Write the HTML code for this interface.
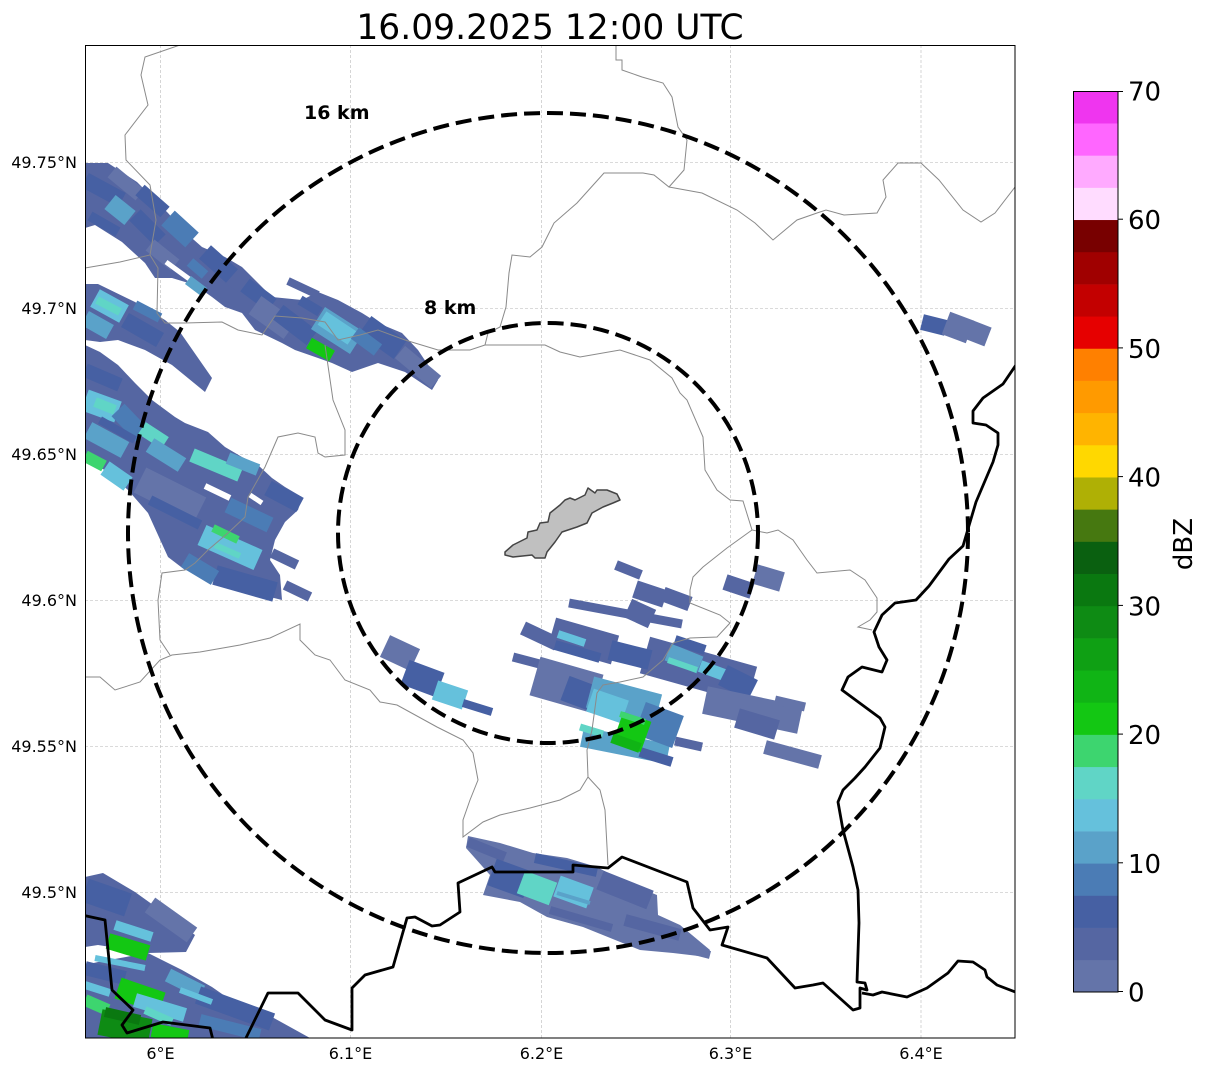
<!DOCTYPE html>
<html><head><meta charset="utf-8"><style>
html,body{margin:0;padding:0;background:#fff;}
svg{display:block;}
text{font-family:"DejaVu Sans","Liberation Sans",sans-serif;}
.f0{fill:#6474a9}.f1{fill:#5566a2}.f2{fill:#4660a3}
.s0{stroke:#6474a9}.s1{stroke:#5566a2}.s2{stroke:#4660a3}.s3{stroke:#4b7cb5}.s4{stroke:#5aa2c9}.s5{stroke:#65c1dc}.s6{stroke:#60d5c6}.s7{stroke:#3dd56f}.s8{stroke:#13c713}.s9{stroke:#10b415}.s11{stroke:#0e8b14}.s12{stroke:#0a7810}
.w{stroke:#fff}
.g{fill:none;stroke:#8a8a8a;stroke-width:1}
.b{fill:none;stroke:#000;stroke-width:2.8;stroke-linejoin:round}
.grid{stroke:#c4c4c4;stroke-width:0.7;stroke-dasharray:3,2}
</style></head><body>
<svg width="1207" height="1073" viewBox="0 0 1207 1073" xmlns="http://www.w3.org/2000/svg">
<defs><clipPath id="cp"><rect x="85" y="45" width="930" height="993"/></clipPath></defs>
<rect width="1207" height="1073" fill="#fff"/>
<text x="550" y="39" font-size="34.5" text-anchor="middle">16.09.2025 12:00 UTC</text>

<g clip-path="url(#cp)">
<!-- gridlines -->
<g class="grid">
<line x1="160.5" y1="45" x2="160.5" y2="1038"/><line x1="350.5" y1="45" x2="350.5" y2="1038"/><line x1="541.5" y1="45" x2="541.5" y2="1038"/><line x1="730.5" y1="45" x2="730.5" y2="1038"/><line x1="921" y1="45" x2="921" y2="1038"/>
<line x1="85" y1="162.3" x2="1015" y2="162.3"/><line x1="85" y1="308.3" x2="1015" y2="308.3"/><line x1="85" y1="454.3" x2="1015" y2="454.3"/><line x1="85" y1="600.3" x2="1015" y2="600.3"/><line x1="85" y1="746.3" x2="1015" y2="746.3"/><line x1="85" y1="892.3" x2="1015" y2="892.3"/>
</g>

<!-- echoes -->
<g stroke-linecap="butt">
<!-- cluster 1 -->
<polygon class="f1" points="85,163 108,163 137,182 168,213 185,232 202,247 225,257 242,267 272,297 302,300 318,292 338,300 362,313 378,323 402,333 418,350 438,380 432,390 405,372 378,363 352,372 332,363 318,358 295,350 282,343 255,330 242,313 225,307 212,297 195,285 172,278 155,278 145,263 122,242 95,225 85,228"/>
<line class="s2" x1="85" y1="180" x2="122" y2="200" stroke-width="16"/>
<line class="s0" x1="112" y1="172" x2="140" y2="195" stroke-width="14"/>
<line class="s4" x1="110" y1="202" x2="130" y2="218" stroke-width="18"/>
<line class="s2" x1="90" y1="216" x2="118" y2="232" stroke-width="10"/>
<line class="s2" x1="140" y1="190" x2="165" y2="212" stroke-width="14"/>
<line class="s3" x1="168" y1="218" x2="192" y2="240" stroke-width="20"/>
<line class="s2" x1="135" y1="215" x2="160" y2="240" stroke-width="16"/>
<line class="s0" x1="150" y1="245" x2="175" y2="265" stroke-width="14"/>
<line class="s2" x1="205" y1="252" x2="232" y2="276" stroke-width="18"/>
<line class="s3" x1="190" y1="262" x2="205" y2="275" stroke-width="10"/>
<line class="w" x1="166" y1="262" x2="192" y2="281" stroke-width="5"/>
<line class="s4" x1="188" y1="280" x2="204" y2="292" stroke-width="10"/>
<line class="s1" x1="215" y1="285" x2="245" y2="305" stroke-width="14"/>
<line class="s2" x1="245" y1="285" x2="272" y2="305" stroke-width="16"/>
<line class="s0" x1="255" y1="305" x2="290" y2="330" stroke-width="22"/>
<line class="s2" x1="278" y1="312" x2="312" y2="338" stroke-width="18"/>
<line class="s1" x1="288" y1="281" x2="318" y2="295" stroke-width="8"/>
<line class="s2" x1="300" y1="300" x2="320" y2="312" stroke-width="10"/>
<line class="s4" x1="318" y1="318" x2="357" y2="343" stroke-width="26"/>
<line class="s5" x1="322" y1="318" x2="352" y2="338" stroke-width="16"/>
<line class="s8" x1="309" y1="343" x2="332" y2="356" stroke-width="12"/>
<line class="s2" x1="365" y1="325" x2="400" y2="350" stroke-width="22"/>
<line class="s3" x1="355" y1="333" x2="378" y2="350" stroke-width="14"/>
<line class="s0" x1="400" y1="352" x2="436" y2="382" stroke-width="16"/>

<!-- cluster 2a -->
<polygon class="f1" points="85,284 98,284 135,302 165,320 180,332 212,378 205,392 172,365 145,350 118,340 100,342 85,340"/>
<line class="s5" x1="95" y1="298" x2="124" y2="314" stroke-width="20"/>
<line class="s6" x1="97" y1="300" x2="120" y2="312" stroke-width="8"/>
<line class="s4" x1="85" y1="318" x2="110" y2="332" stroke-width="16"/>
<line class="s2" x1="125" y1="320" x2="160" y2="340" stroke-width="16"/>
<line class="s3" x1="135" y1="305" x2="160" y2="318" stroke-width="10"/>

<!-- cluster 2b -->
<polygon class="f1" points="85,345 100,352 118,365 135,383 152,400 175,417 185,423 208,432 225,447 242,457 258,465 272,478 285,487 302,497 298,510 285,522 275,540 270,560 280,575 282,600 250,592 228,583 212,573 185,570 168,557 148,513 128,490 105,470 85,462"/>
<line class="s5" x1="85" y1="400" x2="118" y2="412" stroke-width="22"/>
<line class="s6" x1="95" y1="402" x2="115" y2="410" stroke-width="10"/>
<line class="s2" x1="85" y1="370" x2="120" y2="385" stroke-width="14"/>
<line class="s3" x1="118" y1="410" x2="142" y2="435" stroke-width="18"/>
<line class="s6" x1="142" y1="428" x2="165" y2="443" stroke-width="14"/>
<line class="s4" x1="150" y1="445" x2="182" y2="465" stroke-width="16"/>
<line class="s4" x1="88" y1="430" x2="125" y2="450" stroke-width="18"/>
<line class="s2" x1="100" y1="420" x2="135" y2="440" stroke-width="8"/>
<line class="s7" x1="85" y1="456" x2="104" y2="466" stroke-width="12"/>
<line class="s5" x1="105" y1="468" x2="128" y2="484" stroke-width="16"/>
<line class="s6" x1="192" y1="455" x2="240" y2="475" stroke-width="14"/>
<line class="s4" x1="228" y1="458" x2="258" y2="470" stroke-width="12"/>
<line class="s2" x1="268" y1="488" x2="300" y2="505" stroke-width="16"/>
<line class="s0" x1="140" y1="480" x2="200" y2="510" stroke-width="28"/>
<line class="s2" x1="150" y1="500" x2="200" y2="525" stroke-width="10"/>
<line class="s3" x1="228" y1="505" x2="270" y2="525" stroke-width="16"/>
<line class="w" x1="205" y1="486" x2="230" y2="498" stroke-width="6"/>
<line class="w" x1="250" y1="495" x2="262" y2="503" stroke-width="5"/>
<line class="s5" x1="202" y1="535" x2="258" y2="560" stroke-width="22"/>
<line class="s7" x1="213" y1="528" x2="238" y2="540" stroke-width="8"/>
<line class="s6" x1="215" y1="545" x2="240" y2="556" stroke-width="6"/>
<line class="s2" x1="215" y1="575" x2="275" y2="592" stroke-width="20"/>
<line class="s3" x1="185" y1="560" x2="215" y2="578" stroke-width="16"/>
<line class="s1" x1="272" y1="553" x2="297" y2="565" stroke-width="10"/>
<line class="s1" x1="285" y1="585" x2="310" y2="597" stroke-width="10"/>

<!-- cluster 3 (NE) -->
<line class="s2" x1="922" y1="322" x2="946" y2="328" stroke-width="16"/>
<line class="s0" x1="946" y1="323" x2="970" y2="332" stroke-width="24"/>
<line class="s0" x1="970" y1="330" x2="988" y2="337" stroke-width="20"/>

<!-- cluster 4 -->
<line class="s1" x1="725" y1="582" x2="752" y2="591" stroke-width="16"/>
<line class="s0" x1="755" y1="574" x2="782" y2="582" stroke-width="20"/>

<!-- cluster 5 -->
<line class="s1" x1="616" y1="565" x2="641" y2="575" stroke-width="10"/>
<line class="s1" x1="635" y1="589" x2="665" y2="599" stroke-width="18"/>
<line class="s1" x1="663" y1="594" x2="690" y2="604" stroke-width="15"/>
<line class="s1" x1="569" y1="603" x2="682" y2="624" stroke-width="9"/>
<line class="s1" x1="628" y1="608" x2="652" y2="619" stroke-width="20"/>
<line class="s1" x1="523" y1="628" x2="557" y2="644" stroke-width="14"/>
<line class="s1" x1="513" y1="657" x2="570" y2="672" stroke-width="9"/>
<line class="s1" x1="552" y1="632" x2="615" y2="650" stroke-width="30"/>
<line class="s5" x1="558" y1="634" x2="585" y2="643" stroke-width="8"/>
<line class="s2" x1="555" y1="645" x2="600" y2="658" stroke-width="10"/>
<line class="s0" x1="535" y1="676" x2="598" y2="694" stroke-width="40"/>
<line class="s2" x1="565" y1="688" x2="597" y2="700" stroke-width="26"/>
<line class="s1" x1="645" y1="655" x2="752" y2="685" stroke-width="38"/>
<line class="s2" x1="610" y1="650" x2="650" y2="660" stroke-width="20"/>
<line class="s4" x1="668" y1="652" x2="700" y2="665" stroke-width="18"/>
<line class="s6" x1="668" y1="660" x2="697" y2="670" stroke-width="6"/>
<line class="s5" x1="700" y1="666" x2="727" y2="676" stroke-width="12"/>
<line class="s2" x1="723" y1="675" x2="753" y2="690" stroke-width="22"/>
<line class="s2" x1="675" y1="640" x2="705" y2="650" stroke-width="10"/>
<line class="s0" x1="705" y1="700" x2="800" y2="720" stroke-width="28"/>
<line class="s1" x1="737" y1="718" x2="777" y2="730" stroke-width="20"/>
<line class="s0" x1="765" y1="747" x2="820" y2="762" stroke-width="14"/>
<line class="s1" x1="675" y1="741" x2="702" y2="747" stroke-width="9"/>
<line class="s0" x1="775" y1="700" x2="805" y2="707" stroke-width="9"/>
<line class="s4" x1="590" y1="692" x2="658" y2="710" stroke-width="32"/>
<line class="s5" x1="590" y1="700" x2="625" y2="712" stroke-width="24"/>
<line class="s4" x1="582" y1="737" x2="668" y2="754" stroke-width="20"/>
<line class="s6" x1="580" y1="727" x2="603" y2="734" stroke-width="7"/>
<line class="s3" x1="640" y1="718" x2="678" y2="732" stroke-width="34"/>
<line class="s2" x1="640" y1="752" x2="672" y2="762" stroke-width="10"/>
<line class="s8" x1="618" y1="727" x2="646" y2="737" stroke-width="32"/>
<line class="s9" x1="612" y1="738" x2="640" y2="748" stroke-width="10"/>
<line class="s7" x1="620" y1="714" x2="645" y2="722" stroke-width="6"/>

<!-- cluster 6 -->
<line class="s0" x1="385" y1="646" x2="415" y2="660" stroke-width="24"/>
<line class="s2" x1="405" y1="672" x2="440" y2="685" stroke-width="26"/>
<line class="s5" x1="435" y1="690" x2="465" y2="700" stroke-width="20"/>
<line class="s2" x1="463" y1="703" x2="492" y2="712" stroke-width="8"/>

<!-- cluster 7 -->
<polygon class="f0" points="468,836 500,843 533,853 567,858 597,867 627,883 657,895 658,915 680,925 710,950 707,957 673,953 640,950 583,927 547,917 520,902 483,895 490,875 466,848"/>
<line class="s1" x1="468" y1="842" x2="505" y2="857" stroke-width="10"/>
<line class="s2" x1="492" y1="872" x2="528" y2="885" stroke-width="28"/>
<line class="s2" x1="535" y1="858" x2="597" y2="872" stroke-width="10"/>
<line class="s6" x1="521" y1="882" x2="553" y2="894" stroke-width="24"/>
<line class="s5" x1="557" y1="886" x2="590" y2="898" stroke-width="22"/>
<line class="s4" x1="557" y1="893" x2="590" y2="903" stroke-width="4"/>
<line class="s1" x1="550" y1="910" x2="612" y2="928" stroke-width="8"/>
<line class="s1" x1="600" y1="880" x2="650" y2="900" stroke-width="20"/>
<line class="s1" x1="625" y1="920" x2="680" y2="935" stroke-width="12"/>
<line class="s0" x1="675" y1="946" x2="710" y2="955" stroke-width="8"/>

<!-- cluster 8 -->
<polygon class="f1" points="85,877 103,873 135,892 195,935 186,952 148,953 98,945 85,947"/>
<polygon class="f1" points="85,965 98,962 148,953 182,970 212,987 235,1003 272,1017 310,1038 85,1038"/>
<line class="s2" x1="85" y1="890" x2="128" y2="905" stroke-width="24"/>
<line class="s0" x1="150" y1="905" x2="192" y2="935" stroke-width="18"/>
<line class="s5" x1="115" y1="925" x2="152" y2="937" stroke-width="10"/>
<line class="s8" x1="108" y1="941" x2="148" y2="953" stroke-width="16"/>
<line class="s2" x1="85" y1="968" x2="125" y2="978" stroke-width="14"/>
<line class="s5" x1="95" y1="958" x2="145" y2="968" stroke-width="6"/>
<line class="s8" x1="118" y1="988" x2="162" y2="1003" stroke-width="22"/>
<line class="s7" x1="85" y1="1000" x2="108" y2="1010" stroke-width="12"/>
<line class="s5" x1="85" y1="985" x2="110" y2="993" stroke-width="8"/>
<line class="s11" x1="100" y1="1022" x2="150" y2="1032" stroke-width="26"/>
<line class="s12" x1="105" y1="1012" x2="140" y2="1020" stroke-width="10"/>
<line class="s5" x1="135" y1="1000" x2="185" y2="1015" stroke-width="14"/>
<line class="s6" x1="145" y1="1010" x2="172" y2="1022" stroke-width="8"/>
<line class="s8" x1="152" y1="1030" x2="188" y2="1037" stroke-width="14"/>
<line class="s4" x1="168" y1="975" x2="202" y2="992" stroke-width="14"/>
<line class="s2" x1="198" y1="995" x2="272" y2="1022" stroke-width="18"/>
<line class="s5" x1="180" y1="990" x2="212" y2="1002" stroke-width="6"/>
<line class="s3" x1="200" y1="1020" x2="260" y2="1035" stroke-width="12"/>
</g>

<!-- admin boundaries (gray) -->
<polyline class="g" points="180,45 145,57 141,75 148,105 125,135 126,160 150,185 156,220 150,255 120,262 85,268"/>
<polyline class="g" points="150,255 158,268 157,313 165,323 185,323 222,322 238,330 262,335 275,316 302,318 325,322 338,340 360,335 378,330 405,340 438,350 470,350 485,345"/>
<polyline class="g" points="325,345 333,400 345,430 345,455 325,457 318,453 315,437 298,433 278,437 265,467 248,497 245,517 228,533 208,550 195,563 185,570 162,573 158,600 160,640 170,655"/>
<polyline class="g" points="85,677 100,677 115,690 140,682 160,660 172,655 200,652 240,645 270,638 300,624 300,640 315,655 330,660 345,680 370,690 380,702 397,705 437,727 463,740 473,753 478,780 470,800 463,820 463,837 483,822 500,815 530,808 560,800 580,790 588,777"/>
<polyline class="g" points="616,45 616,60 622,60 622,70 642,77 663,83 672,97 678,127 687,140 684,170 669,187 654,175 643,173 604,173 595,183 577,203 554,223 542,247 530,257 512,255 509,273 506,307 500,327 488,333 485,345 520,345 545,345 560,352 580,357 620,350 650,360 672,378 680,393 687,400 703,437 705,470 717,490 730,500 743,501 752,530 767,533 778,530 793,540 807,560 817,573 850,570 865,580 877,598 877,612 870,620 858,627 872,630"/>
<polyline class="g" points="669,187 702,193 737,210 755,223 773,240 797,220 817,213 826,210 844,215 877,213 886,197 883,180 898,163 921,163 939,180 963,210 981,222 995,213 1015,187"/>
<polyline class="g" points="752,530 727,548 703,567 693,577 690,590 690,603 720,615 730,623 717,637 690,638 673,643 663,660 643,677 620,682 603,685 597,693 592,730 587,750 588,777 600,790 605,810 608,865"/>

<!-- national borders (black) -->
<polyline class="b" points="1018,362 1003,384 983,398 973,411 973,423 986,425 998,433 998,445 993,462 976,502 968,529 963,546 949,559 929,586 916,600 895,603 882,615 874,632 879,647 887,660 882,672 862,667 848,677 842,690 880,718 885,727 880,748 865,767 855,778 843,790 838,802 843,830 853,867 858,890 859,923 857,982 865,983 867,990 860,988 860,1008 853,1010 823,983 813,985 795,988 767,958 722,945 728,927 710,930 693,908 687,882 622,857 608,868 573,865 573,872 495,872 492,867 458,883 460,912 440,925 432,926 415,917 407,918 393,967 365,975 352,988 352,1030 325,1020 298,993 268,993 245,1040"/>
<polyline class="b" points="862,993 873,995 882,992 907,997 927,988 948,973 958,961 973,962 985,970 987,977 997,985 1018,993"/>
<polyline class="b" points="82,915 105,920 112,990 133,1010 122,1025 127,1033 163,1022 210,1028 213,1040"/>

<!-- range rings -->
<circle cx="548" cy="533" r="420" fill="none" stroke="#000" stroke-width="4" stroke-dasharray="16,7"/>
<circle cx="548" cy="533" r="210" fill="none" stroke="#000" stroke-width="4" stroke-dasharray="16,7"/>

<!-- city -->
<polygon points="505,552 513,545 527,538 528,532 537,530 540,523 548,522 550,513 560,505 565,500 570,498 575,500 585,495 588,488 595,493 597,490 607,490 617,494 620,500 613,503 603,507 592,513 587,523 577,527 562,532 555,542 547,552 545,558 535,558 532,555 513,557 505,555" fill="#c0c0c0" stroke="#444" stroke-width="1.5" stroke-linejoin="round"/>

<text x="304" y="119" font-size="19" font-weight="bold">16 km</text>
<text x="424" y="314" font-size="19" font-weight="bold">8 km</text>
</g>

<rect x="85.5" y="45.5" width="929.5" height="992.5" fill="none" stroke="#000" stroke-width="1"/>

<!-- axis labels -->
<g font-size="16">
<text x="77" y="168" text-anchor="end">49.75°N</text>
<text x="77" y="314" text-anchor="end">49.7°N</text>
<text x="77" y="460" text-anchor="end">49.65°N</text>
<text x="77" y="606" text-anchor="end">49.6°N</text>
<text x="77" y="752" text-anchor="end">49.55°N</text>
<text x="77" y="898" text-anchor="end">49.5°N</text>
<text x="160.5" y="1059" text-anchor="middle">6°E</text>
<text x="350.5" y="1059" text-anchor="middle">6.1°E</text>
<text x="541.5" y="1059" text-anchor="middle">6.2°E</text>
<text x="730.5" y="1059" text-anchor="middle">6.3°E</text>
<text x="921" y="1059" text-anchor="middle">6.4°E</text>
</g>

<!-- colorbar -->
<g>
<rect x="1073" y="959.82" width="45" height="32.5" fill="#6474a9"/>
<rect x="1073" y="927.64" width="45" height="32.5" fill="#5566a2"/>
<rect x="1073" y="895.46" width="45" height="32.5" fill="#4660a3"/>
<rect x="1073" y="863.29" width="45" height="32.5" fill="#4b7cb5"/>
<rect x="1073" y="831.11" width="45" height="32.5" fill="#5aa2c9"/>
<rect x="1073" y="798.93" width="45" height="32.5" fill="#65c1dc"/>
<rect x="1073" y="766.75" width="45" height="32.5" fill="#60d5c6"/>
<rect x="1073" y="734.57" width="45" height="32.5" fill="#3dd56f"/>
<rect x="1073" y="702.39" width="45" height="32.5" fill="#13c713"/>
<rect x="1073" y="670.21" width="45" height="32.5" fill="#10b415"/>
<rect x="1073" y="638.04" width="45" height="32.5" fill="#0fa014"/>
<rect x="1073" y="605.86" width="45" height="32.5" fill="#0e8b14"/>
<rect x="1073" y="573.68" width="45" height="32.5" fill="#0a7810"/>
<rect x="1073" y="541.5" width="45" height="32.5" fill="#0a6010"/>
<rect x="1073" y="509.32" width="45" height="32.5" fill="#467810"/>
<rect x="1073" y="477.14" width="45" height="32.5" fill="#afb005"/>
<rect x="1073" y="444.96" width="45" height="32.5" fill="#ffd800"/>
<rect x="1073" y="412.79" width="45" height="32.5" fill="#ffb400"/>
<rect x="1073" y="380.61" width="45" height="32.5" fill="#ff9a00"/>
<rect x="1073" y="348.43" width="45" height="32.5" fill="#ff8000"/>
<rect x="1073" y="316.25" width="45" height="32.5" fill="#e60000"/>
<rect x="1073" y="284.07" width="45" height="32.5" fill="#c30000"/>
<rect x="1073" y="251.89" width="45" height="32.5" fill="#a00000"/>
<rect x="1073" y="219.71" width="45" height="32.5" fill="#780000"/>
<rect x="1073" y="187.54" width="45" height="32.5" fill="#ffdcff"/>
<rect x="1073" y="155.36" width="45" height="32.5" fill="#ffaaff"/>
<rect x="1073" y="123.18" width="45" height="32.5" fill="#ff66ff"/>
<rect x="1073" y="91" width="45" height="32.5" fill="#ef35ef"/>
<rect x="1073.5" y="91.5" width="44.5" height="900.5" fill="none" stroke="#000" stroke-width="1"/>
<g stroke="#000" stroke-width="1">
<line x1="1118" y1="991.5" x2="1123" y2="991.5"/><line x1="1118" y1="862.8" x2="1123" y2="862.8"/><line x1="1118" y1="734.1" x2="1123" y2="734.1"/><line x1="1118" y1="605.4" x2="1123" y2="605.4"/><line x1="1118" y1="476.6" x2="1123" y2="476.6"/><line x1="1118" y1="347.9" x2="1123" y2="347.9"/><line x1="1118" y1="219.2" x2="1123" y2="219.2"/><line x1="1118" y1="91.5" x2="1123" y2="91.5"/>
</g>
<g font-size="26">
<text x="1128" y="1001.5">0</text>
<text x="1128" y="872.8">10</text>
<text x="1128" y="744.1">20</text>
<text x="1128" y="615.4">30</text>
<text x="1128" y="486.6">40</text>
<text x="1128" y="357.9">50</text>
<text x="1128" y="229.2">60</text>
<text x="1128" y="100.5">70</text>
</g>
<text x="0" y="0" font-size="26" text-anchor="middle" transform="translate(1192,544) rotate(-90)">dBZ</text>
</g>
</svg>
</body></html>
